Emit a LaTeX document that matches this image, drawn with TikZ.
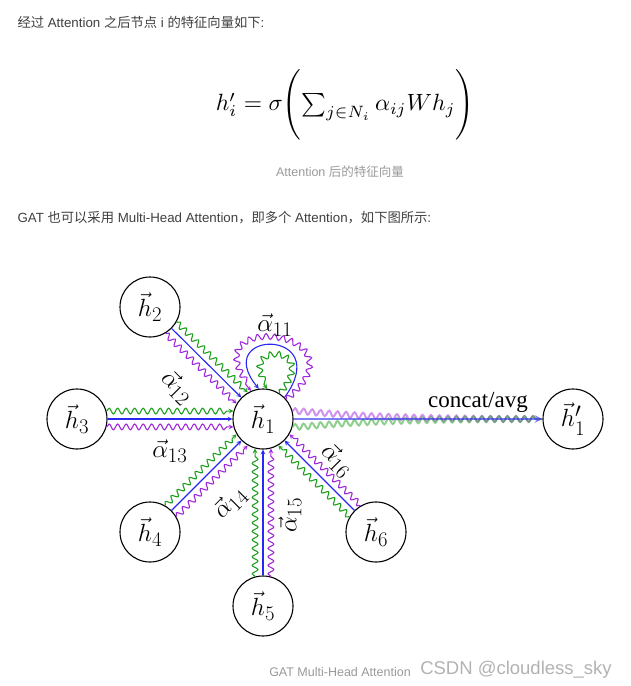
\documentclass[tikz,border=0pt]{standalone}
\usepackage{amsmath,amssymb}
\usepackage[no-math]{fontspec}
\usepackage{xcolor}
\usepackage{tikz}
\usetikzlibrary{decorations.pathmorphing}

\newfontfamily\cjk{Noto Sans CJK SC}
\newfontfamily\arialf{Liberation Sans}
\newfontfamily\timesf{Liberation Serif}
\definecolor{bodytext}{HTML}{3F3F3F}
\definecolor{captext}{HTML}{999999}
\definecolor{headg}{RGB}{30,160,30}
\definecolor{headb}{RGB}{40,40,240}
\definecolor{headp}{RGB}{160,40,220}

\begin{document}
\begin{tikzpicture}[x=1pt, y=1pt, >=stealth,
  vert/.style={circle, draw, line width=1.1pt, minimum size=60pt, inner sep=0pt, font=\Huge},
  lbl/.style={font=\Huge, inner sep=1pt},
  para/.style={anchor=base west, text=bodytext, font={\arialf\fontsize{13.3}{16}\selectfont}},
  capt/.style={anchor=base, text=captext, font={\arialf\fontsize{12.5}{15}\selectfont}},
  wavy/.style={decorate, decoration={snake, amplitude=2.9pt, segment length=8.5pt, post length=5pt}},
  gline/.style={->, headg, line width=1.1pt, wavy},
  bline/.style={->, headb, line width=1.1pt},
  pline/.style={->, headp, line width=1.1pt, wavy}]
\useasboundingbox (0,0) rectangle (631,-686);
% page text
\node[para] (line1) at (14,-27) {{\cjk 经过} Attention {\cjk 之后节点} i {\cjk 的特征向量如下}:};
\node (eq) at (345,-105) {\scalebox{2.35}{$h'_i=\sigma\Biggl(\sum\nolimits_{j\in N_i}\alpha_{ij}Wh_j\Biggr)$}};
\node[capt] (cap1) at (340,-176.5) {Attention {\cjk 后的特征向量}};
\node[para] (line2) at (14,-222) {GAT {\cjk 也可以采用} Multi-Head Attention{\cjk ，即多个} Attention{\cjk ，如下图所示}:};
% nodes
\node[vert] (h1) at (263,-419) {$\vec{h}_1$};
\node[vert] (h2) at (150,-307) {$\vec{h}_2$};
\node[vert] (h3) at (77,-419) {$\vec{h}_3$};
\node[vert] (h4) at (150,-532) {$\vec{h}_4$};
\node[vert] (h5) at (263,-606) {$\vec{h}_5$};
\node[vert] (h6) at (376,-532) {$\vec{h}_6$};
\node[vert] (h1p) at (573,-419) {$\vec{h}'_1$};
% three heads
\draw[gline] (h2.-30) -- (h1.120);
\draw[bline] (h2) -- (h1);
\draw[pline] (h2.-60) -- (h1.150);
\draw[gline] (h3.15) -- (h1.165);
\draw[bline] (h3) -- (h1);
\draw[pline] (h3.-15) -- (h1.195);
\draw[gline] (h4.60) -- (h1.210);
\draw[bline] (h4) -- (h1);
\draw[pline] (h4.30) -- (h1.240);
\draw[gline] (h5.105) -- (h1.255);
\draw[bline] (h5) -- (h1);
\draw[pline] (h5.75) -- (h1.285);
\draw[gline] (h6.150) -- (h1.300);
\draw[bline] (h6) -- (h1);
\draw[pline] (h6.120) -- (h1.330);
% self loops
\draw[gline] (h1.57) to[out=50, in=129, out distance=64pt, in distance=58pt] (h1.82);
\draw[bline] (h1.45) to[out=54, in=129, out distance=86pt, in distance=77pt] (h1.98);
\draw[pline] (h1.40) to[out=40, in=131, out distance=109pt, in distance=108pt] (h1.113);
% output
\draw[headp, line width=2pt, opacity=0.5, wavy] (h1.15) to[out=0, in=180, out distance=20pt, in distance=200pt] (h1p.west);
\draw[headg, line width=2pt, opacity=0.5, wavy] (h1.-15) to[out=0, in=180, out distance=20pt, in distance=200pt] (h1p.west);
\draw[->, headb, line width=2.4pt, opacity=0.6] (h1) -- (h1p);
% labels
\node[lbl] (a11) at (275,-325) {$\vec{\alpha}_{11}$};
\node[lbl, rotate=-45] (a12) at (177,-387) {$\vec{\alpha}_{12}$};
\node[lbl] (a13) at (170,-451) {$\vec{\alpha}_{13}$};
\node[lbl, rotate=45] (a14) at (230,-503) {$\vec{\alpha}_{14}$};
\node[lbl, rotate=90] (a15) at (290,-515) {$\vec{\alpha}_{15}$};
\node[lbl, rotate=-45] (a16) at (337,-460) {$\vec{\alpha}_{16}$};
\node[font={\timesf\fontsize{23}{27}\selectfont}] (cc) at (478,-402) {concat/avg};
% footer
\node[capt] (cap2) at (340,-676) {GAT Multi-Head Attention};
\node[anchor=base, text=gray!60, font={\arialf\fontsize{18.5}{20}\selectfont}] (mark) at (516,-674) {CSDN @cloudless\_sky};
\end{tikzpicture}
\end{document}
